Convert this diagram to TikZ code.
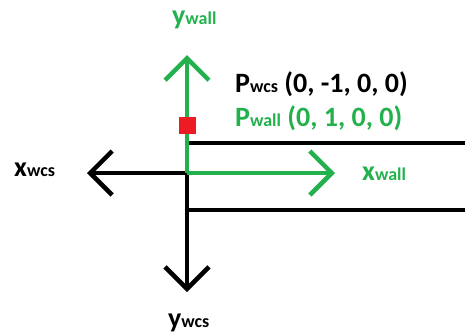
\documentclass[tikz,border=0pt]{standalone}
\usepackage{fontspec}
\setmainfont{Carlito}
\usetikzlibrary{arrows.meta}
\definecolor{pgreen}{RGB}{34,177,76}
\definecolor{pred}{RGB}{237,28,36}
\tikzset{
  axis/.style={line width=4.5pt, -{Straight Barb[length=22pt,width=44pt,line width=4.5pt]}},
  wall/.style={line width=4.5pt},
  lbl/.style={anchor=base west, inner sep=0pt, font=\bfseries},
}
\newcommand{\bigtxt}[1]{{\fontsize{28}{30}\selectfont #1}}
\newcommand{\subtxt}[1]{{\fontsize{18}{20}\selectfont #1}}
\begin{document}
\begin{tikzpicture}[x=1pt,y=-1pt]
\useasboundingbox (0,0) rectangle (465,333);
\coordinate (O) at (187,173);
\coordinate (wt0) at (187,143);
\coordinate (wt1) at (467,143);
\coordinate (wb0) at (187,210);
\coordinate (wb1) at (467,210);
\coordinate (xwcsT) at (87,173);
\coordinate (ywcsT) at (187,292);
\coordinate (xwallT) at (335,173);
\coordinate (ywallT) at (187,55);
% black
\draw[wall] (wt0) -- (wt1);
\draw[wall] (wb0) -- (wb1);
\draw[axis] (O) -- (xwcsT);
\draw[axis] (O) -- (ywcsT);
% green
\draw[axis, pgreen] (O) -- (xwallT);
\draw[axis, pgreen] (O) -- (ywallT);
% red point
\node[fill=pred, minimum size=17pt, inner sep=0pt] (P) at (187,125.5) {};
% labels
\node[lbl, pgreen] (lywall) at (172,24) {\bigtxt{y}\subtxt{wall}};
\node[lbl] (lxwcs) at (14,176) {\bigtxt{x}\subtxt{wcs}};
\node[lbl] (lywcs) at (168,327) {\bigtxt{y}\subtxt{wcs}};
\node[lbl, pgreen] (lxwall) at (362,180) {\bigtxt{x}\subtxt{wall}};
\node[lbl] (lpwcs) at (235,92) {\bigtxt{P}\subtxt{wcs}\bigtxt{ (0, -1, 0, 0)}};
\node[lbl, pgreen] (lpwall) at (235,126) {\bigtxt{P}\subtxt{wall}\bigtxt{ (0, 1, 0, 0)}};
\end{tikzpicture}
\end{document}
